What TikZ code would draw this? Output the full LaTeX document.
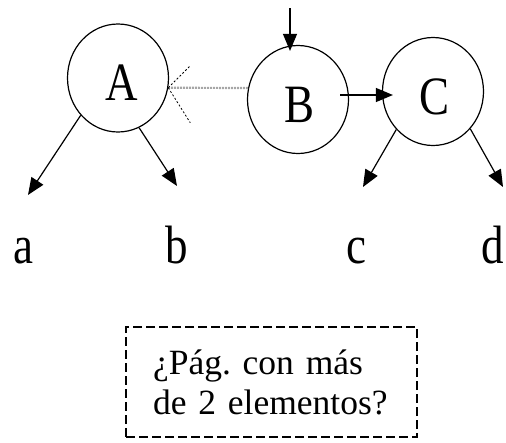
\documentclass[tikz,border=0pt]{standalone}
\usepackage{fontspec}
\setmainfont{Liberation Serif}
\usetikzlibrary{arrows.meta,shapes.geometric}
\frenchspacing
\begin{document}
\begin{tikzpicture}[x=1pt,y=-1pt,
  circ/.style={draw,ellipse,line width=1.2pt,minimum width=101pt,minimum height=108pt,inner sep=0pt},
  big/.style={font=\fontsize{45}{50}\selectfont,inner sep=0pt},
  arr/.style={line width=1.2pt,-{Triangle[length=17pt,width=14pt]}},
  graydot/.style={draw=gray!70,line width=2.2pt,dash pattern=on 2pt off 1pt},
  fan/.style={line width=0.8pt,dash pattern=on 2pt off 2pt},
  qbox/.style={draw,line width=1.4pt,dash pattern=on 9pt off 4pt,minimum width=291pt,minimum height=110pt,
    align=left,text width=237pt,inner xsep=27pt,font=\fontsize{35.5}{40}\selectfont}]
\useasboundingbox (0,0) rectangle (506,442);
\node[circ,label={[big,xshift=4pt,yshift=-5pt]center:\scalebox{1}[1.2]{A}}] (A) at (118,78) {};
\node[circ,label={[big,xshift=2pt,yshift=-5pt]center:\scalebox{1}[1.2]{B}}] (B) at (298,99.5) {};
\node[circ,label={[big,xshift=2pt,yshift=-5pt]center:\scalebox{1}[1.2]{C}}] (C) at (433,91.5) {};
\node[big,anchor=base] (la) at (23,263) {\scalebox{1}[1.2]{a}};
\node[big,anchor=base] (lb) at (177,263) {\scalebox{1}[1.2]{b}};
\node[big,anchor=base] (lc) at (356,263) {\scalebox{1}[1.2]{c}};
\node[big,anchor=base] (ld) at (493,263) {\scalebox{1}[1.2]{d}};
\coordinate (ta) at (28,195);
\coordinate (tb) at (177,186);
\coordinate (tc) at (363,187);
\coordinate (td) at (503,187);
\coordinate (tB) at (290,8);
\coordinate (bs) at (340,95);
\draw[arr] (A.-135) -- (ta);
\draw[arr] (A.-67) -- (tb);
\draw[arr] (C.-134) -- (tc);
\draw[arr] (C.-45) -- (td);
\draw[arr] (tB) -- ([yshift=-6pt]tB |- B.north);
\draw[arr] (bs) -- ([xshift=11pt]C.west |- bs);
\draw[graydot] (B.167) -- (A.-11);
\draw[fan] (A.-11) -- ++(22,-22);
\draw[fan] (A.-11) -- ++(22,35);
\node[qbox] (q) at (271.5,382) {¿Pág. con más\\de 2 elementos?};
\end{tikzpicture}
\end{document}
